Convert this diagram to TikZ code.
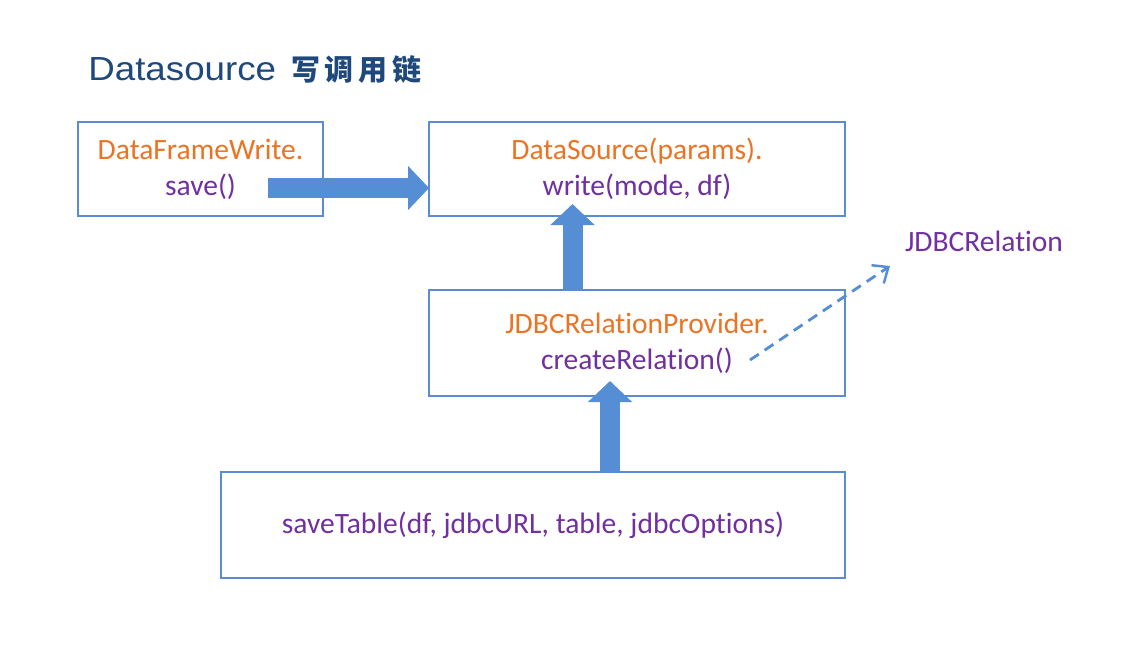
\documentclass[tikz,border=0pt]{standalone}
\usepackage{fontspec}
\setmainfont{Carlito}[Ligatures=NoCommon]
\newfontfamily\titlefont[FakeStretch=1.1]{Liberation Sans}
\newfontfamily\cjk{Noto Sans CJK SC}
\usetikzlibrary{arrows.meta,calc}
\definecolor{Frame}{HTML}{5B8BD2}
\definecolor{Pipe}{HTML}{558ED5}
\definecolor{Head}{HTML}{1F497D}
\definecolor{Orng}{HTML}{EB7424}
\definecolor{Purp}{HTML}{7030A0}
\tikzset{
  call/.style={draw=Frame,line width=1.2pt,inner sep=0pt,outer sep=0pt,align=center,
    font=\fontsize{16.8}{20.5}\selectfont},
  push/.style={draw=Pipe,line width=0.4cm,-{Triangle[length=0.42cm,width=0.86cm]}},
  ret/.style={draw=Pipe,line width=1.6pt,dash pattern=on 6pt off 4pt,
    -{Straight Barb[length=2.6mm,width=4.4mm,line width=1.4pt]}},
}
\begin{document}
\begin{tikzpicture}[x=0.02cm,y=-0.02cm]
  \useasboundingbox[fill=white] (0,0) rectangle (1130,664);
  % title
  \node[anchor=base west,inner sep=0pt,text=Head] (title) at (88,80)
    {{\titlefont\fontsize{19}{22}\selectfont Datasource}\hspace{0.3cm}{\cjk\bfseries\fontsize{16.5}{20}\selectfont 写\,调\,用\,链}};
  % call boxes
  \node[call,minimum width=4.9cm,minimum height=1.88cm] (b1) at (200.5,169)
    {\textcolor{Orng}{DataFrameWrite.}\\\textcolor{Purp}{save()}};
  \node[call,minimum width=8.32cm,minimum height=1.88cm] (b2) at (637,169)
    {\textcolor{Orng}{DataSource(params).}\\\textcolor{Purp}{write(mode, df)}};
  \node[call,minimum width=8.32cm,minimum height=2.12cm] (b3) at (637,343)
    {\textcolor{Orng}{JDBCRelationProvider.}\\\textcolor{Purp}{createRelation()}};
  \node[call,minimum width=12.48cm,minimum height=2.12cm] (b4) at (533,525)
    {\textcolor{Purp}{saveTable(df, jdbcURL, table, jdbcOptions)}};
  \node[text=Purp,font=\fontsize{16.8}{19.8}\selectfont,inner sep=0pt] (rel) at (984,241) {JDBCRelation};
  % fat arrows
  \coordinate (s1) at (268,188);
  \coordinate (t2) at (572.5,204);
  \coordinate (t3) at (610,381);
  \draw[push] (s1) -- (s1 -| b2.west);
  \draw[push] (t2 |- b3.north) -- (t2);
  \draw[push] (t3 |- b4.north) -- (t3);
  % dashed result
  \coordinate (d0) at (750,360);
  \coordinate (d1) at (890,266);
  \draw[ret] (d0) -- (d1);
\end{tikzpicture}
\end{document}
